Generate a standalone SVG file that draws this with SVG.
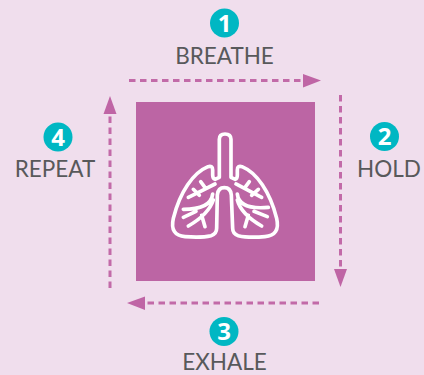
<svg xmlns="http://www.w3.org/2000/svg" width="424" height="375" viewBox="0 0 424 375">
<style>
.bg{fill:#f0deed}
.num{fill:#00b7c3}
.n{font-family:"Open Sans","Liberation Sans",sans-serif;font-weight:700;font-size:24px;fill:#fff;text-anchor:middle}
.l{font-family:"Lato","Liberation Sans",sans-serif;font-size:22.500px;fill:#58595b;text-anchor:middle}
.c{fill:none;stroke:#c26aa8;stroke-width:3;stroke-dasharray:6.500 4.500}
.h{fill:#bf65a5}
.lung{fill:none;stroke:#fff;stroke-width:11;stroke-linecap:round;stroke-linejoin:round}
</style>
<rect class="bg" width="424" height="375"/>
<g id="center">
<rect x="136" y="102" width="179" height="179" fill="#bc65a4"/>
<g class="lung" transform="translate(160 120) scale(.3333)">
<path d="M178 172V58Q178 42 195 42Q213 42 213 58V172L226 178Q232 176 232 165V150Q232 136 246 140C290 158 330 215 350 295C358 330 345 348 315 350C290 352 255 352 235 347Q218 342 218 325L214 225Q212 203 193 203Q174 203 172 225L170 325Q170 342 153 347C133 352 100 352 75 350C45 348 32 330 40 295C60 215 100 158 144 140Q158 136 158 150V165Q158 176 165 178Z"/>
<path d="M165 192L120 215L85 232M122 185L137 205M100 208L118 226"/>
<path d="M158 222C155 250 130 268 70 268M70 292L108 274M160 240C150 270 125 295 85 318M125 286L135 320"/>
<path d="M228 192L272 215L305 232M268 185L253 205M295 208L275 226"/>
<path d="M232 222C235 250 260 268 325 262M322 290L282 274M232 240C240 270 265 295 305 318M265 286L255 320"/>
</g>
</g>
<g id="connectors">
<path class="c" d="M129 80.500H306"/><path class="h" d="M303 74L321 80.500L303 87.500Z"/>
<path class="c" d="M340.500 95V271"/><path class="h" d="M334 269L340.500 287L347 269Z"/>
<path class="c" d="M319 303H143"/><path class="h" d="M145 296.500L127 303L145 310Z"/>
<path class="c" d="M110 288V113"/><path class="h" d="M103.500 114L110 96L116.500 114Z"/>
</g>
<g id="step1"><circle class="num" cx="224.500" cy="23" r="14.500"/><text class="n" x="224.500" y="31.500">1</text><text class="l" x="224.500" y="64">BREATHE</text></g>
<g id="step2"><circle class="num" cx="384.500" cy="136.500" r="14.500"/><text class="n" x="384.500" y="145">2</text><text class="l" x="389" y="177">HOLD</text></g>
<g id="step3"><circle class="num" cx="224" cy="331.500" r="14.500"/><text class="n" x="224" y="340">3</text><text class="l" x="224.500" y="370.300">EXHALE</text></g>
<g id="step4"><circle class="num" cx="58" cy="137" r="14.500"/><text class="n" x="58" y="145.500">4</text><text class="l" x="55" y="177">REPEAT</text></g>
</svg>
